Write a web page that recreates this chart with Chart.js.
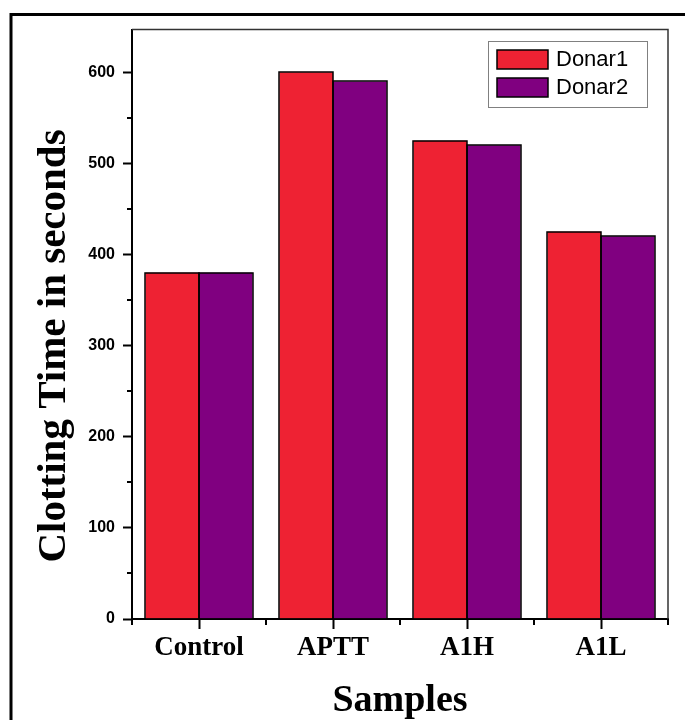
<!DOCTYPE html>
<html>
<head>
<meta charset="utf-8">
<script src="https://cdn.jsdelivr.net/npm/chart.js@4"></script>
<style>
	html, body { margin: 0; padding: 0; background: #ffffff; }
	canvas { display: block; }
</style>
</head>
<body>
<canvas id="chart" width="685" height="720"></canvas>
<script>
// data
const categories = ['Control', 'APTT', 'A1H', 'A1L'];
const donar1 = [380, 600, 525, 425];
const donar2 = [380, 590, 520, 420];
const yTickValues = [0, 100, 200, 300, 400, 500, 600];
const yMinorValues = [50, 150, 250, 350, 450, 550];
const yMax = 647;

const seriesLabels = ['Donar1', 'Donar2'];
const seriesColors = ['#ee2233', '#800080'];

const yTitle = 'Clotting Time in seconds';
const xTitle = 'Samples';

// =====================================
// FRAME, MINOR TICKS, TITLES
// =====================================

const framePlugin = {
	id: 'frame',
	beforeDraw(chart) {
		const ctx = chart.ctx;
		ctx.save();
		ctx.fillStyle = '#ffffff';
		ctx.fillRect(0, 0, chart.width, chart.height);
		// outer page frame (left + top only, cropped at the edges)
		ctx.strokeStyle = '#000000';
		ctx.lineWidth = 3;
		ctx.beginPath();
		ctx.moveTo(11, chart.height);
		ctx.lineTo(11, 14.5);
		ctx.lineTo(chart.width, 14.5);
		ctx.stroke();
		ctx.restore();
	},
	afterDatasetsDraw(chart) {
		// crisp black outlines round every bar
		const ctx = chart.ctx;
		ctx.save();
		ctx.strokeStyle = '#000000';
		ctx.lineWidth = 1.5;
		chart.data.datasets.forEach((ds, di) => {
			chart.getDatasetMeta(di).data.forEach((bar) => {
				const left = Math.round(bar.x - bar.width / 2);
				const right = Math.round(bar.x + bar.width / 2);
				const top = Math.round(bar.y);
				const bottom = Math.round(bar.base);
				ctx.strokeRect(left, top, right - left, bottom - top);
			});
		});
		ctx.restore();
	},
	afterDraw(chart) {
		const ctx = chart.ctx;
		const area = chart.chartArea;
		const x = chart.scales.x;
		const y = chart.scales.y;
		ctx.save();

		// top and right side of the plot box
		ctx.strokeStyle = '#333333';
		ctx.lineWidth = 1.5;
		ctx.beginPath();
		ctx.moveTo(area.left, area.top);
		ctx.lineTo(area.right, area.top);
		ctx.lineTo(area.right, area.bottom);
		ctx.stroke();

		// minor ticks
		ctx.strokeStyle = '#000000';
		ctx.lineWidth = 2;
		ctx.beginPath();
		yMinorValues.forEach((v) => {
			const py = Math.round(y.getPixelForValue(v));
			ctx.moveTo(area.left, py);
			ctx.lineTo(area.left - 5, py);
		});
		for (let i = 0; i <= categories.length; i++) {
			const px = (x.getPixelForValue(i - 1) + x.getPixelForValue(i)) / 2;
			const edge = i === 0 ? area.left : i === categories.length ? area.right : px;
			ctx.moveTo(edge, area.bottom);
			ctx.lineTo(edge, area.bottom + 6);
		}
		ctx.stroke();

		// axis titles
		ctx.fillStyle = '#000000';
		ctx.font = 'bold 41px "Liberation Serif", "Times New Roman", serif';
		ctx.textAlign = 'center';
		ctx.textBaseline = 'alphabetic';
		ctx.save();
		ctx.translate(65, 346);
		ctx.rotate(-Math.PI / 2);
		ctx.fillText(yTitle, 0, 0);
		ctx.restore();

		ctx.font = 'bold 38px "Liberation Serif", "Times New Roman", serif';
		ctx.fillText(xTitle, (area.left + area.right) / 2, 711);

		ctx.restore();
	},
};

// =====================================
// BOXED LEGEND (top right)
// =====================================

const boxLegendPlugin = {
	id: 'boxLegend',
	afterDraw(chart) {
		const ctx = chart.ctx;
		const area = chart.chartArea;
		const sets = chart.data.datasets;
		const boxRight = area.right - 21;
		const boxLeft = boxRight - 159;
		const boxTop = area.top + 11.5;
		const rowH = 28;
		const boxH = 66;

		ctx.save();
		ctx.fillStyle = '#ffffff';
		ctx.fillRect(boxLeft, boxTop, boxRight - boxLeft, boxH);
		ctx.strokeStyle = '#808080';
		ctx.lineWidth = 1;
		ctx.strokeRect(boxLeft + 0.5, boxTop + 0.5, boxRight - boxLeft, boxH);

		ctx.font = '22px "Liberation Sans", Arial, sans-serif';
		ctx.textAlign = 'left';
		ctx.textBaseline = 'middle';
		sets.forEach((ds, i) => {
			const sy = boxTop + 9 + i * rowH;
			ctx.fillStyle = ds.backgroundColor;
			ctx.fillRect(boxLeft + 9, sy, 51, 19);
			ctx.strokeStyle = '#000000';
			ctx.lineWidth = 1.5;
			ctx.strokeRect(boxLeft + 9, sy, 51, 19);
			ctx.fillStyle = '#000000';
			ctx.fillText(ds.label, boxLeft + 68, sy + 10);
		});
		ctx.restore();
	},
};

// =====================================
// CHART
// =====================================

new Chart(document.getElementById('chart'), {
	type: 'bar',
	data: {
		labels: categories,
		datasets: [
			{
				label: seriesLabels[0],
				data: donar1,
				backgroundColor: seriesColors[0],
				borderWidth: 0,
				categoryPercentage: 0.8,
				barPercentage: 1.0,
			},
			{
				label: seriesLabels[1],
				data: donar2,
				backgroundColor: seriesColors[1],
				borderWidth: 0,
				categoryPercentage: 0.8,
				barPercentage: 1.0,
			},
		],
	},
	options: {
		responsive: false,
		animation: false,
		devicePixelRatio: 1,
		layout: {
			padding: { left: 0, top: 29.5, right: 17, bottom: 0 },
		},
		plugins: {
			legend: { display: false },
			tooltip: { enabled: false },
		},
		scales: {
			x: {
				offset: true,
				grid: {
					offset: false,
					drawOnChartArea: false,
					tickLength: 10,
					tickWidth: 2,
					tickColor: '#000000',
				},
				border: { color: '#000000', width: 2 },
				ticks: {
					color: '#000000',
					padding: 3,
					autoSkip: false,
					maxRotation: 0,
					font: { family: '"Liberation Serif", "Times New Roman", serif', size: 27, weight: 'bold' },
				},
				afterFit: (scale) => {
					scale.height = 101;
				},
			},
			y: {
				min: 0,
				max: yMax,
				grid: {
					drawOnChartArea: false,
					tickLength: 9,
					tickWidth: 2,
					tickColor: '#000000',
				},
				border: { color: '#000000', width: 2 },
				ticks: {
					color: '#000000',
					padding: 8,
					font: { family: '"Liberation Sans", Arial, sans-serif', size: 16, weight: 'bold' },
				},
				afterBuildTicks: (scale) => {
					scale.ticks = yTickValues.map((v) => ({ value: v }));
				},
				afterFit: (scale) => {
					scale.width = 132;
				},
			},
		},
	},
	plugins: [framePlugin, boxLegendPlugin],
});
</script>
</body>
</html>
